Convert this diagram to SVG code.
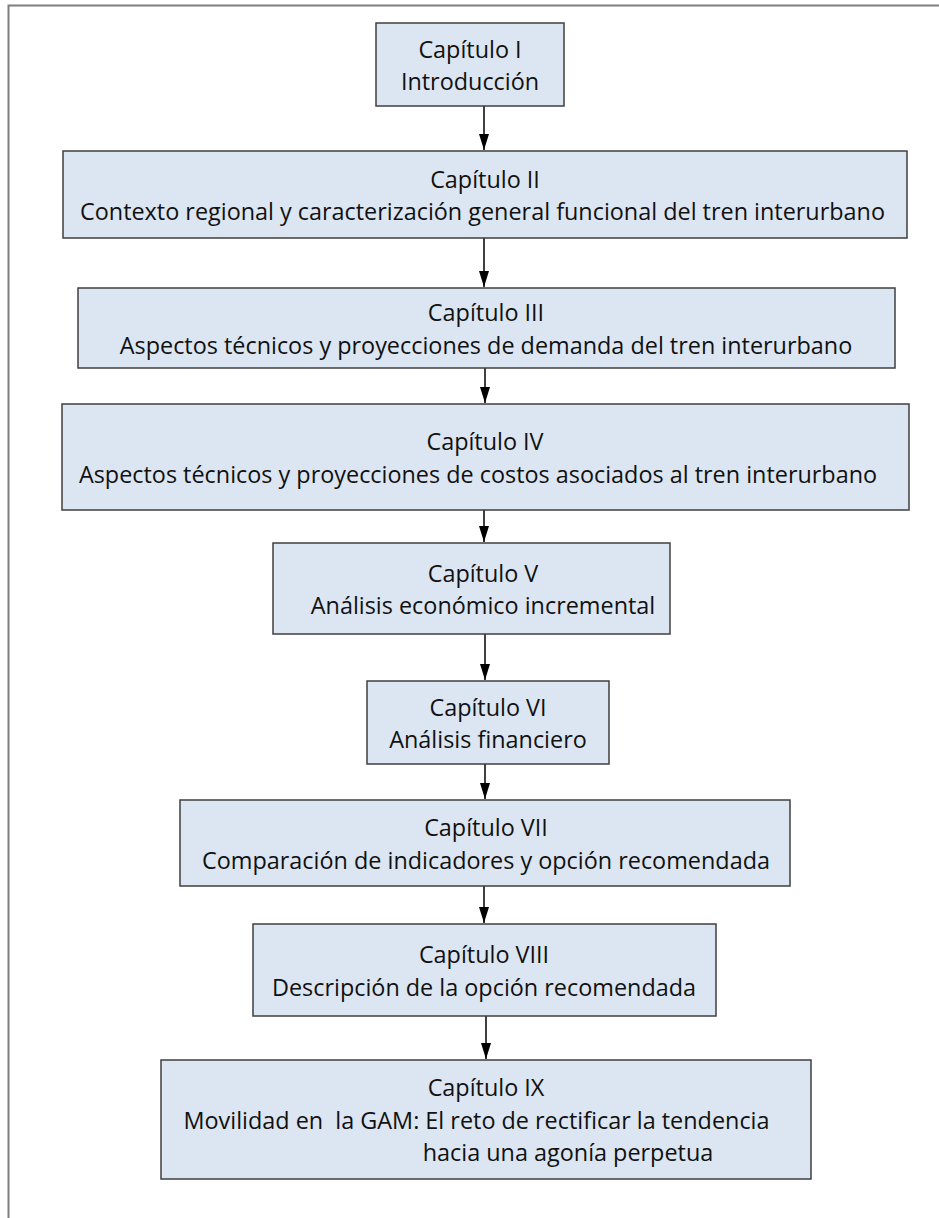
<svg xmlns="http://www.w3.org/2000/svg" width="939" height="1218" viewBox="0 0 939 1218">
<defs>
<style>
.box{fill:#dce6f2;stroke:#3f3f3f;stroke-width:1.5}
.t{font-family:"Open Sans","Liberation Sans",sans-serif;font-size:23.4px;fill:#111;text-anchor:middle}
.c{stroke:#000;stroke-width:1.5;fill:none}
</style>
<marker id="ah" markerUnits="userSpaceOnUse" markerWidth="18" markerHeight="12" viewBox="0 0 18 12" refX="17" refY="6" orient="auto">
<path d="M1,1 L17,6 L1,11 Z" fill="#000"/>
</marker>
</defs>
<rect width="939" height="1218" fill="#fff"/>
<path d="M8.5,1218 V5.5 H939" fill="none" stroke="#7f7f7f" stroke-width="2"/>
<g id="connectors">
<line class="c" x1="484" y1="106" x2="484" y2="150" marker-end="url(#ah)"/>
<line class="c" x1="484" y1="238" x2="484" y2="287" marker-end="url(#ah)"/>
<line class="c" x1="485" y1="368" x2="485" y2="403" marker-end="url(#ah)"/>
<line class="c" x1="484" y1="510" x2="484" y2="542" marker-end="url(#ah)"/>
<line class="c" x1="485" y1="634" x2="485" y2="680" marker-end="url(#ah)"/>
<line class="c" x1="485" y1="764" x2="485" y2="799" marker-end="url(#ah)"/>
<line class="c" x1="484" y1="886" x2="484" y2="923" marker-end="url(#ah)"/>
<line class="c" x1="486" y1="1016" x2="486" y2="1059" marker-end="url(#ah)"/>
</g>
<g id="n1"><rect class="box" x="376" y="23" width="188" height="83"/>
<text class="t" x="470" y="58">Capítulo I</text><text class="t" x="470" y="90">Introducción</text></g>
<g id="n2"><rect class="box" x="63" y="151" width="844" height="87"/>
<text class="t" x="485" y="187.5">Capítulo II</text><text class="t" x="482.5" y="219.5">Contexto regional y caracterización general funcional del tren interurbano</text></g>
<g id="n3"><rect class="box" x="78" y="288" width="817" height="80"/>
<text class="t" x="486" y="320.5">Capítulo III</text><text class="t" x="486" y="353.5">Aspectos técnicos y proyecciones de demanda del tren interurbano</text></g>
<g id="n4"><rect class="box" x="62" y="404" width="847" height="106"/>
<text class="t" x="485" y="450">Capítulo IV</text><text class="t" x="478" y="482.5">Aspectos técnicos y proyecciones de costos asociados al tren interurbano</text></g>
<g id="n5"><rect class="box" x="273" y="543" width="397" height="91"/>
<text class="t" x="483" y="581.5">Capítulo V</text><text class="t" x="483" y="614">Análisis económico incremental</text></g>
<g id="n6"><rect class="box" x="367" y="681" width="242" height="83"/>
<text class="t" x="488" y="715.5">Capítulo VI</text><text class="t" x="488" y="748">Análisis financiero</text></g>
<g id="n7"><rect class="box" x="180" y="800" width="610" height="86"/>
<text class="t" x="486" y="836">Capítulo VII</text><text class="t" x="486" y="868.5">Comparación de indicadores y opción recomendada</text></g>
<g id="n8"><rect class="box" x="253" y="924" width="463" height="92"/>
<text class="t" x="484" y="963">Capítulo VIII</text><text class="t" x="484" y="995.5">Descripción de la opción recomendada</text></g>
<g id="n9"><rect class="box" x="161" y="1060" width="650" height="119"/>
<text class="t" x="486" y="1096">Capítulo IX</text><text class="t" x="476.5" y="1128.5" xml:space="preserve">Movilidad en  la GAM: El reto de rectificar la tendencia</text><text class="t" x="568" y="1161">hacia una agonía perpetua</text></g>
</svg>
